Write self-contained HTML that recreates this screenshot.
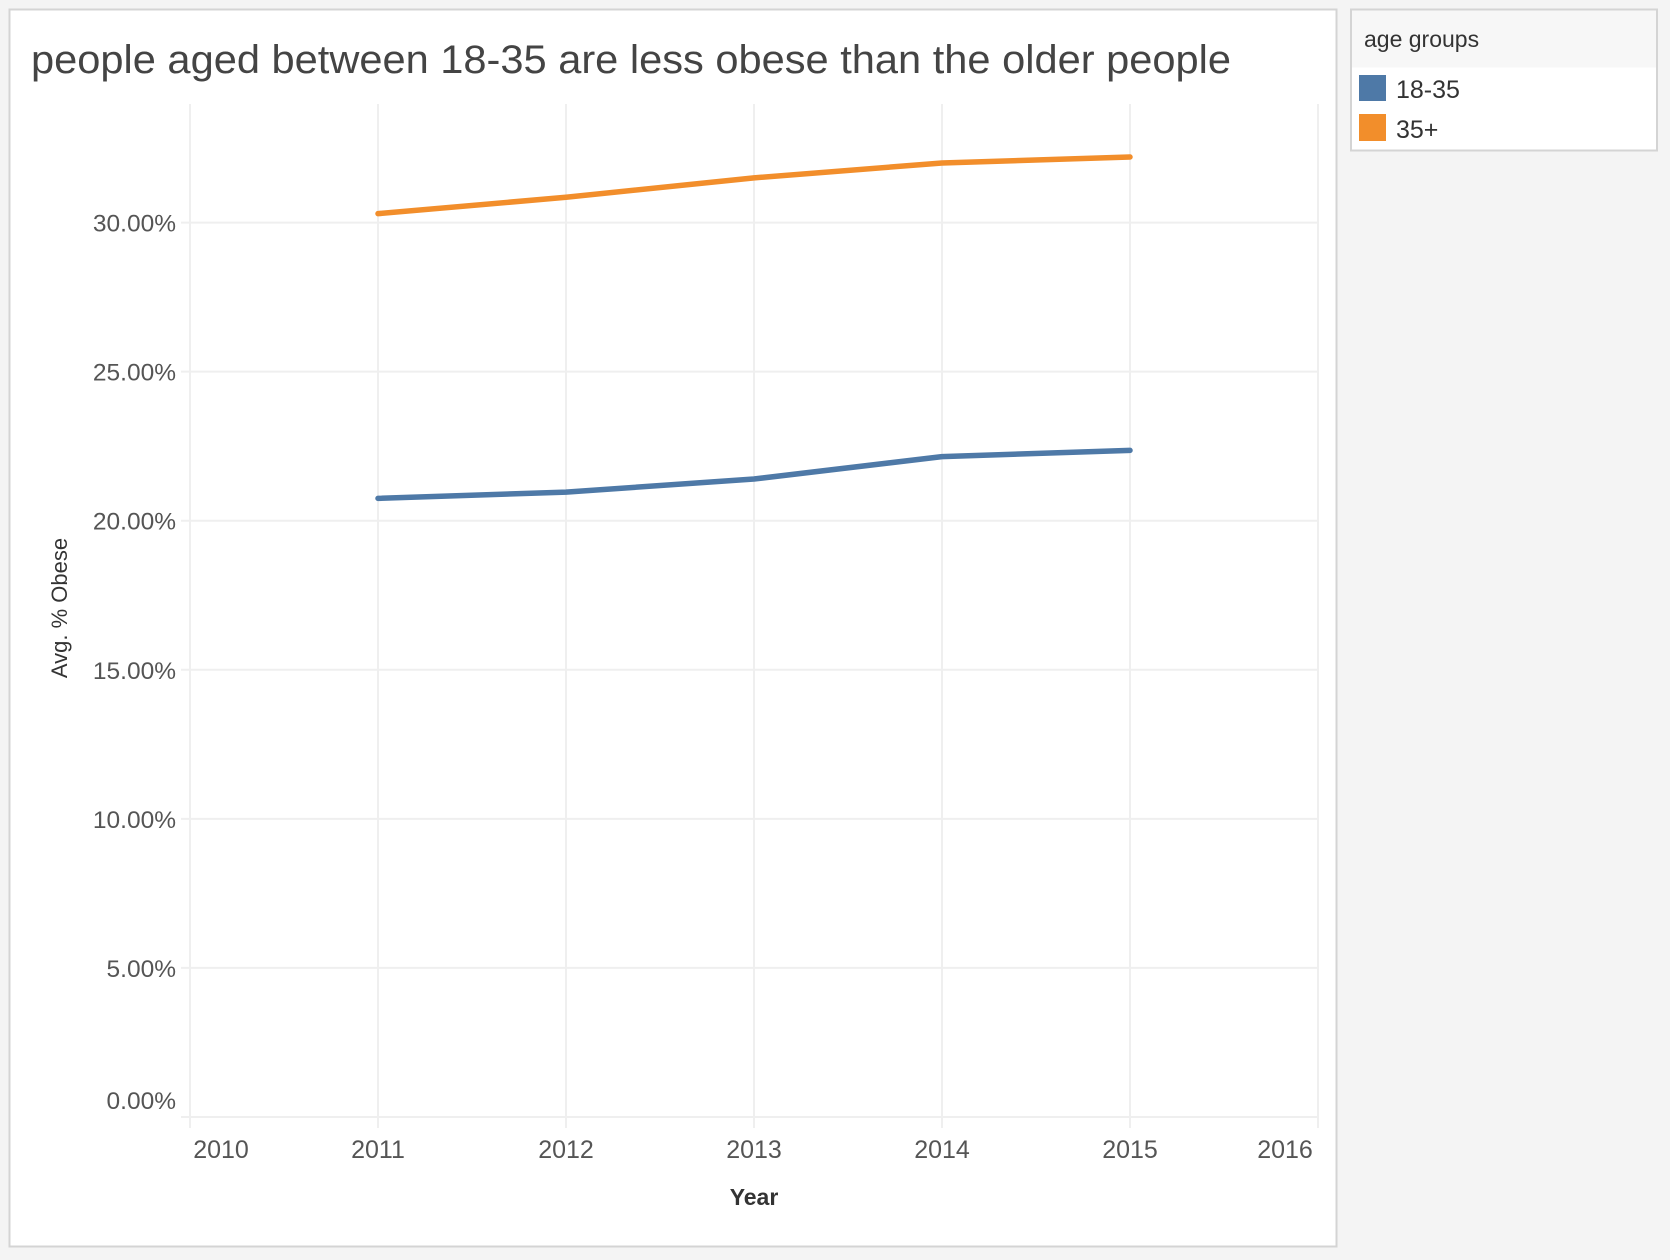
<!DOCTYPE html>
<html><head><meta charset="utf-8"><style>
body{margin:0;background:#f4f4f4;font-family:"Liberation Sans",sans-serif;}
svg{display:block}
</style></head><body>
<svg width="1670" height="1260" viewBox="0 0 1670 1260">
<rect x="0" y="0" width="1670" height="1260" fill="#f4f4f4"/>
<rect x="9.5" y="9.5" width="1327" height="1237" fill="#fff" stroke="#d4d4d4" stroke-width="2"/>
<text x="31" y="73" font-size="40" fill="#444" textLength="1200" lengthAdjust="spacingAndGlyphs">people aged between 18-35 are less obese than the older people</text>
<g id="grid"></g>
<g id="ylabels"></g>
<g id="xlabels"></g>
<g id="series"></g>
<text x="0" y="0" transform="translate(67,608) rotate(-90)" text-anchor="middle" font-size="22" fill="#333">Avg. % Obese</text>
<text x="754" y="1205" text-anchor="middle" font-size="23" font-weight="bold" fill="#333">Year</text>
<g>
<rect x="1351" y="9.5" width="306" height="141" fill="#fff" stroke="#d4d4d4" stroke-width="2"/>
<rect x="1352" y="10.5" width="304" height="57" fill="#f7f7f7"/>
<text x="1364" y="47" font-size="23" fill="#333">age groups</text>
<g>
<rect x="1359" y="75" width="27" height="26" fill="#4e79a7"/>
<text x="1396" y="98" font-size="25" fill="#333">18-35</text></g>
<g>
<rect x="1359" y="114" width="27" height="27" fill="#f28e2b"/>
<text x="1396" y="138" font-size="25" fill="#333">35+</text></g>
</g>
</svg>
<script>
const years=[2011,2012,2013,2014,2015];
const young=[20.75,20.96,21.4,22.15,22.36];
const older=[30.3,30.85,31.5,32.0,32.2];
const yTicks=[0,5,10,15,20,25,30];
const xTicks=[2010,2011,2012,2013,2014,2015,2016];
const NS='http://www.w3.org/2000/svg';
const x=v=>190+(v-2010)*188;
const y=v=>1117-v*(1117-222.6)/30;
function mk(tag,attrs,parent){const e=document.createElementNS(NS,tag);for(const k in attrs)e.setAttribute(k,attrs[k]);parent.appendChild(e);return e;}
const grid=document.getElementById('grid'),yl=document.getElementById('ylabels'),xl=document.getElementById('xlabels'),ser=document.getElementById('series');
yTicks.forEach(t=>{
 const l=mk('line',{x1:181,x2:1319,y1:y(t),y2:y(t),stroke:'#efefef','stroke-width':2},grid);
 
 
 const tx=mk('text',{x:176,y:(t===0?y(t)-8:y(t)+9),'text-anchor':'end','font-size':24.5,fill:'#555'},yl);
 tx.textContent=t.toFixed(2)+'%';
 
 
});
xTicks.forEach(t=>{
 const l=mk('line',{x1:x(t),x2:x(t),y1:104,y2:1128,stroke:'#efefef','stroke-width':2},grid);
 
 
 const tx=mk('text',{x:x(t)+(t===2010?31:t===2016?-33:0),y:1158,'text-anchor':'middle','font-size':25,fill:'#555'},xl);
 tx.textContent=t;
 
 
});
function line(vals,color,name){
 const d=vals.map((v,i)=>(i?'L':'M')+x(years[i])+','+y(v)).join(' ');
 const p=mk('path',{d:d,fill:'none',stroke:color,'stroke-width':5.5,'stroke-linecap':'round','stroke-linejoin':'round'},ser);
 
 
}
line(older,'#f28e2b','line-35-plus');
line(young,'#4e79a7','line-18-35');
</script>
</body></html>
